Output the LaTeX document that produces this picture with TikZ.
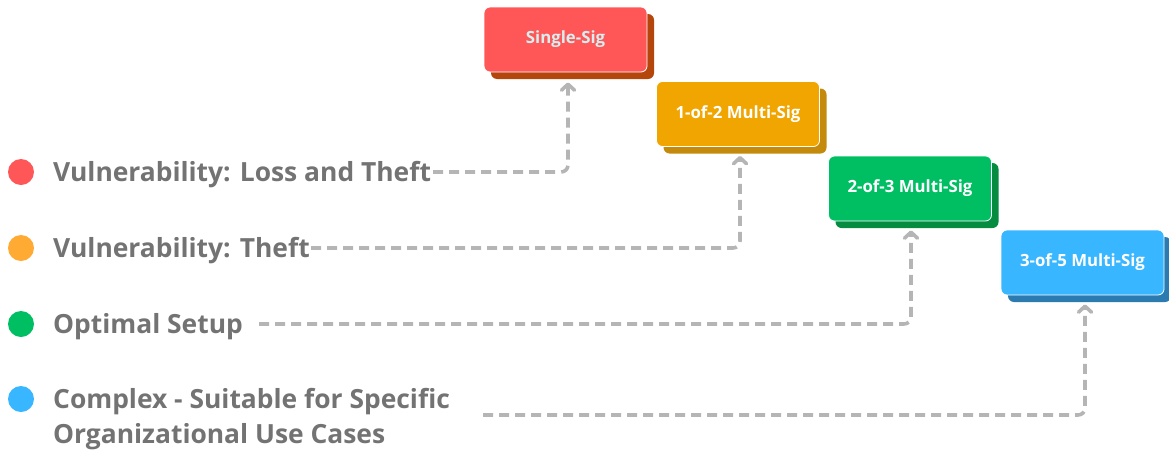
\documentclass[tikz,border=0pt]{standalone}
\usepackage{fontspec}
\setmainfont{Open Sans}
\usetikzlibrary{shadows,arrows.meta,calc}
\definecolor{cred}{HTML}{FF5757}
\definecolor{credS}{HTML}{B4460C}
\definecolor{corg}{HTML}{F0A500}
\definecolor{corgS}{HTML}{C48A0C}
\definecolor{cgrn}{HTML}{00BF63}
\definecolor{cgrnS}{HTML}{058C41}
\definecolor{cblu}{HTML}{38B6FF}
\definecolor{cbluS}{HTML}{2B7AB0}
\definecolor{dotorg}{HTML}{FFAA33}
\definecolor{txtgray}{HTML}{737373}
\definecolor{lngray}{HTML}{B5B5B5}
\definecolor{pale}{HTML}{D6EEF0}
\tikzset{
  box/.style={rectangle, rounded corners=6pt, minimum width=163pt, minimum height=65pt,
    draw=white, line width=0.8pt, text=white, font=\fontsize{16.8}{19}\selectfont\bfseries,
    inner sep=0pt},
  shad/.style={general shadow={fill=#1, draw=none, shadow xshift=7pt, shadow yshift=-7pt}},
  dot/.style={circle, minimum size=26pt, inner sep=0pt, fill=#1},
  lbl/.style={anchor=base west, inner sep=0pt, text=txtgray, font=\fontsize{26.4}{35}\selectfont\bfseries, align=left},
  conn/.style={draw=lngray, line width=3.6pt, dash pattern=on 10pt off 6pt, rounded corners=7pt,
    -{Straight Barb[length=6pt,width=13pt,round]}}
}
\begin{document}
\begin{tikzpicture}[x=1pt,y=-1pt]
\path[use as bounding box] (0,0) rectangle (1169,453);
% boxes
\node[box, fill=cred, shad=credS, text=pale] (b1) at (565.5,39.5) {Single-Sig};
\node[box, fill=corg, shad=corgS] (b2) at (738,114) {1-of-2 Multi-Sig};
\node[box, fill=cgrn, shad=cgrnS] (b3) at (910,188.5) {2-of-3 Multi-Sig};
\node[box, fill=cblu, shad=cbluS] (b4) at (1082.5,262.5) {3-of-5 Multi-Sig};
% legend dots
\node[dot=cred] (d1) at (21,172) {};
\node[dot=dotorg] (d2) at (21,248) {};
\node[dot=cgrn] (d3) at (21,324) {};
\node[dot=cblu] (d4) at (21,399) {};
% labels
\node[lbl] (t1) at (53,181) {Vulnerability: Loss and Theft};
\node[lbl] (t2) at (53,257) {Vulnerability: Theft};
\node[lbl] (t3) at (53,333) {Optimal Setup};
\node[lbl] (t4) at (53,443) {Complex - Suitable for Specific\\Organizational Use Cases};
% connectors
\draw[conn] ([xshift=2pt,yshift=9pt]t1.base east) -| ([xshift=2.5pt,yshift=-10pt]b1.south);
\draw[conn] ([xshift=1pt,yshift=9pt]t2.base east) -| ([xshift=2pt,yshift=-9pt]b2.south);
\draw[conn] ([xshift=16pt,yshift=9pt]t3.base east) -| ([xshift=1pt,yshift=-9pt]b3.south);
\draw[conn] ([xshift=33pt,yshift=28pt]t4.base east) -| ([xshift=2.5pt,yshift=-9pt]b4.south);
\end{tikzpicture}
\end{document}
